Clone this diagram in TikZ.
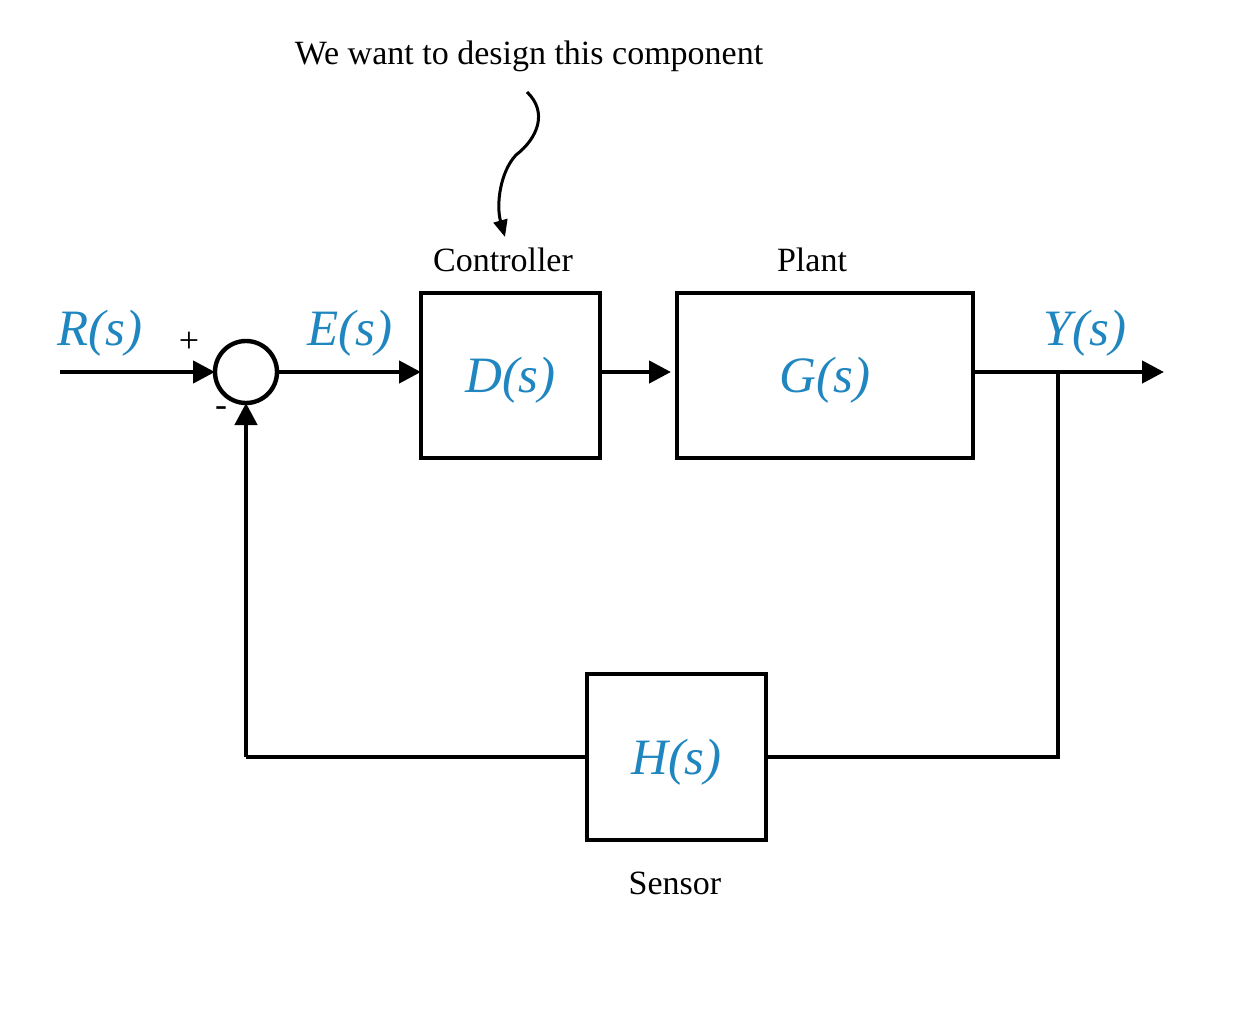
\documentclass[tikz,border=0pt]{standalone}
\usepackage{fontspec}
\setmainfont{Liberation Serif}
\usetikzlibrary{arrows.meta}
\definecolor{sigblue}{HTML}{1F86BF}
\begin{document}
\begin{tikzpicture}[x=1pt,y=-1pt,
  wire/.style={line width=4.4pt},
  sig/.style={wire,-{Triangle[length=22pt,width=22pt]}},
  block/.style={draw,line width=4.4pt,inner sep=0pt,outer sep=0pt},
  tf/.style={text=sigblue,font=\fontsize{51}{51}\selectfont\itshape},
  caption/.style={font=\fontsize{34}{34}\selectfont},
  sign/.style={font=\fontsize{36}{36}\selectfont}]
\useasboundingbox (0,0) rectangle (1248,1014);
% blocks
\node[block,minimum width=179pt,minimum height=165pt] (D) at (510.5,375.5) {};
\node[block,minimum width=296pt,minimum height=165pt] (G) at (825,375.5) {};
\node[block,minimum width=179pt,minimum height=166pt] (H) at (676.5,757) {};
\node[tf] at ([yshift=-5pt]D.center) {D(s)};
\node[tf] at ([yshift=-5pt]G.center) {G(s)};
\node[tf] at ([yshift=-5pt]H.center) {H(s)};
% summing junction
\node[draw,circle,line width=4.4pt,minimum size=62pt,inner sep=0pt,outer sep=0pt] (sum) at (246,372) {};
% helper coordinates
\coordinate (in) at (60,372);
\coordinate (out) at (1164,372);
\coordinate (tap) at (1058,372);
\coordinate (tapdown) at (1058,757);
\coordinate (fbcorner) at (246,757);
\coordinate (gin) at (671,372);
% signal flow
\draw[sig] (in) -- (sum.west);
\draw[sig] (sum.east) -- (D.west |- sum.east);
\draw[sig] (D.east |- gin) -- (gin);
\draw[sig] (G.east |- out) -- (out);
\draw[wire] (tap) -- (tapdown) -- (H.east |- tapdown);
\draw[wire] (H.west |- fbcorner) -- (fbcorner);
\draw[sig] (fbcorner) -- (sum.south);
% signal labels
\node[tf] (R) at (100,333) {R(s)};
\node[tf] (E) at (350,333) {E(s)};
\node[tf] (Y) at (1085,333) {Y(s)};
\node[sign] (plus) at (189,342) {+};
\node[sign] (minus) at (221,412) {-};
% block captions
\node[caption] (cc) at (503,260) {Controller};
\node[caption] (pc) at (812,260) {Plant};
\node[caption] (sc) at (675,883) {Sensor};
\node[caption] (note) at (529,56) {We want to design this component};
% pointer to the controller
\coordinate (p0) at (527,92);
\coordinate (pk) at (516,155);
\draw[line width=3pt,-{Triangle[length=17pt,width=14pt]}] (p0)
  .. controls (548,112) and (538,138) .. (pk)
  .. controls (500,172) and (496,205) .. (505,237);
\end{tikzpicture}
\end{document}
